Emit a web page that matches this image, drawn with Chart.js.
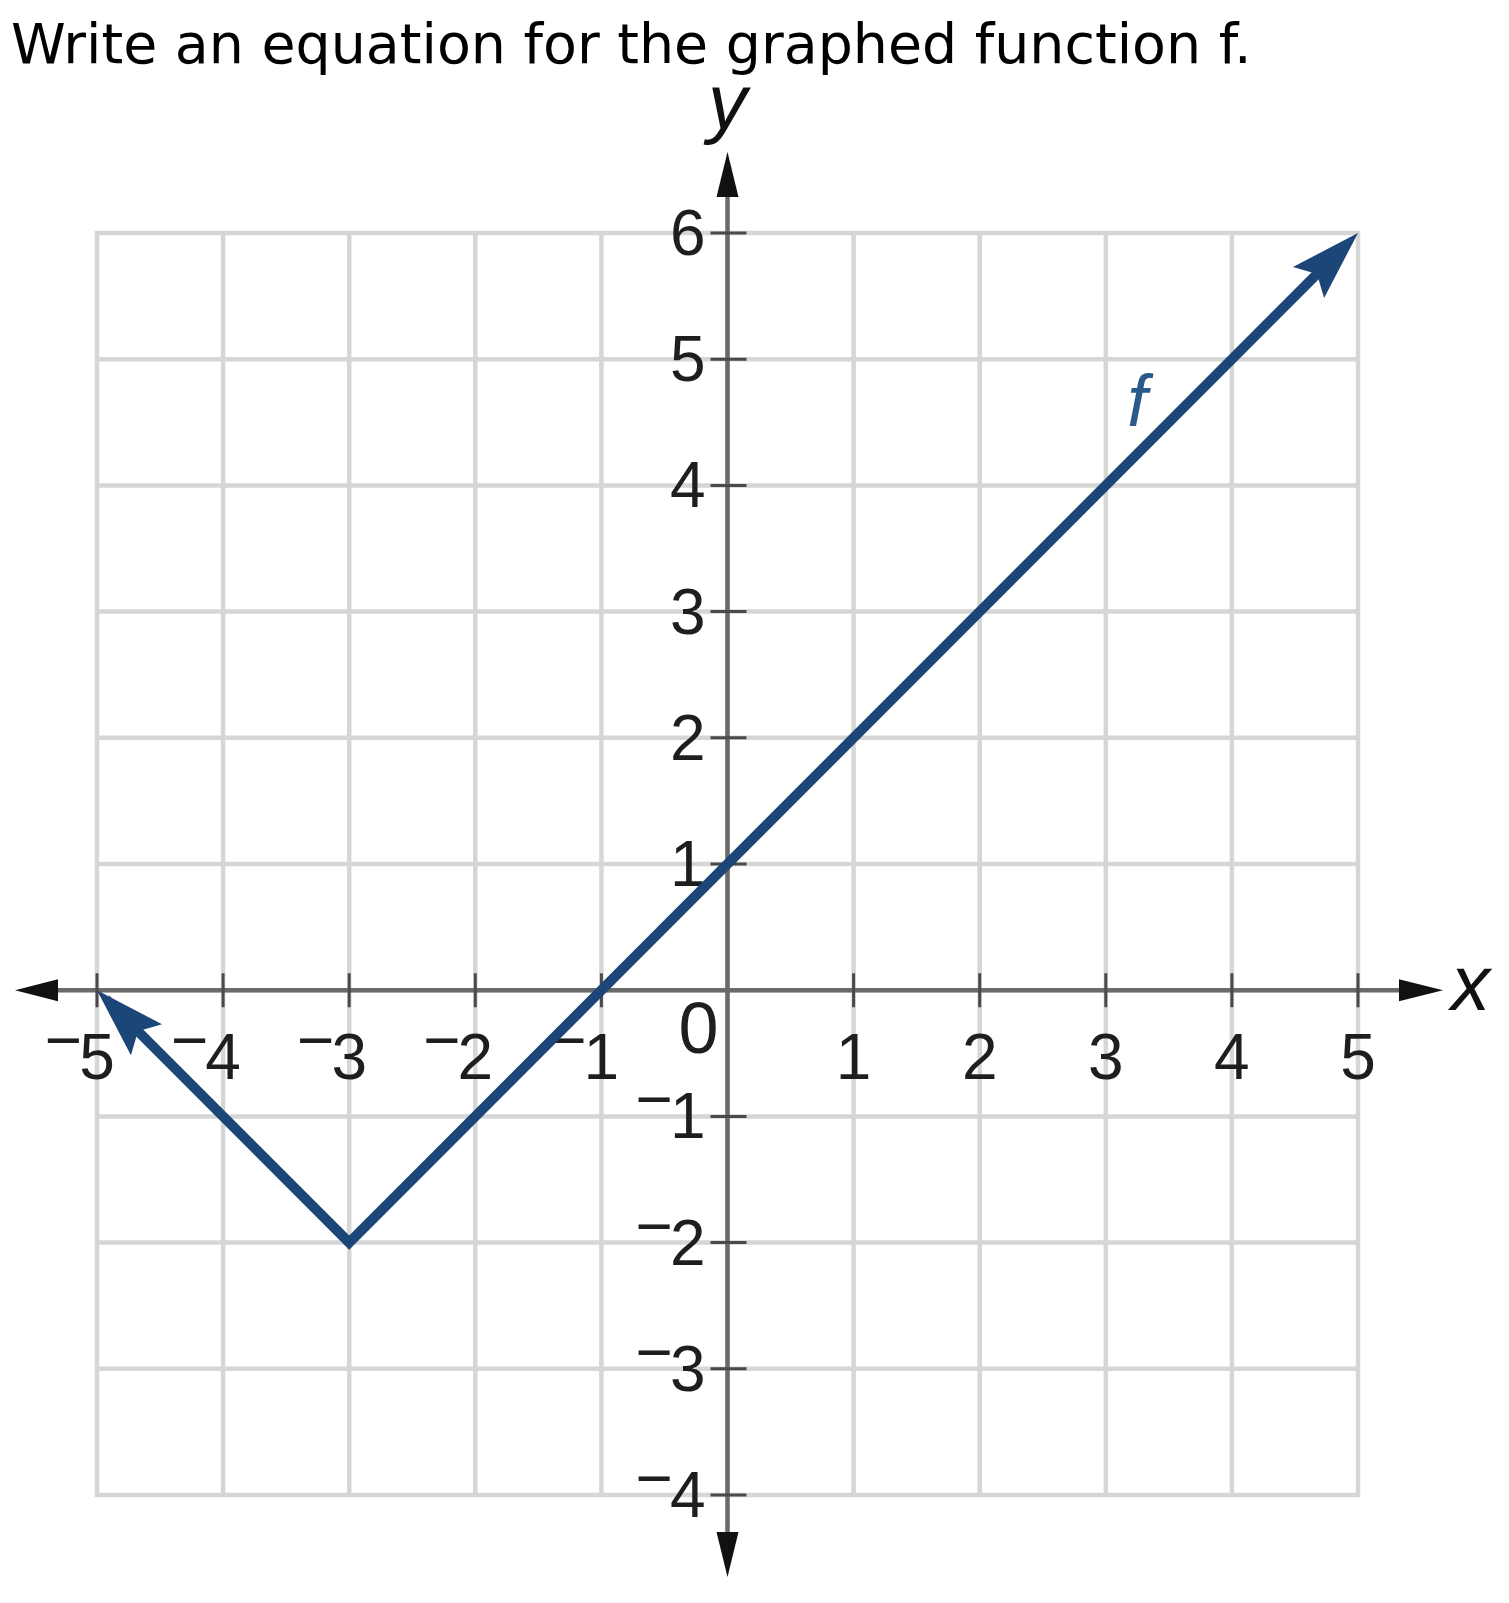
<!DOCTYPE html>
<html>
<head>
<meta charset="utf-8">
<script src="https://cdn.jsdelivr.net/npm/chart.js@4.4.1/dist/chart.umd.min.js"></script>
<style>
html,body{margin:0;padding:0;background:#fff;}
#wrap{position:relative;width:1509px;height:1603px;overflow:hidden;}
#title{position:absolute;left:11px;top:16px;font-family:"DejaVu Sans";font-size:55.4px;line-height:56px;white-space:nowrap;color:#000;}
canvas{position:absolute;left:0;top:0;}
</style>
</head>
<body>
<div id="wrap">
<canvas id="c" width="1509" height="1603"></canvas>
<div id="title">Write an equation for the graphed function f.</div>
</div>
<script>
// ---- data ----
const xRange = [-5, 5];
const yRange = [-4, 6];
const xTickValues = [-5, -4, -3, -2, -1, 1, 2, 3, 4, 5];
const xTickLabels = ['−5', '−4', '−3', '−2', '−1', '1', '2', '3', '4', '5'];
const yTickValues = [6, 5, 4, 3, 2, 1, -1, -2, -3, -4];
const yTickLabels = ['6', '5', '4', '3', '2', '1', '−1', '−2', '−3', '−4'];
const originLabel = '0';
const axisNames = ['x', 'y'];
const seriesName = 'f';
const fX = [-5, -3, 5];
const fY = [0, -2, 6];
const fLabelAt = [3.25, 4.47];

// ---- styles ----
const LINE_COLOR = '#1b4677';
const GRID_COLOR = '#d6d6d6';
const AXIS_COLOR = '#6a6a6a';
const TICK_COLOR = '#4a4a4a';
const TEXT_COLOR = '#1e1e1e';
const NUM_FONT = '64px "Liberation Sans", Arial, sans-serif';

function drawNum(ctx, text, x, baseline, align) {
  ctx.save();
  ctx.font = NUM_FONT;
  ctx.fillStyle = TEXT_COLOR;
  ctx.textBaseline = 'alphabetic';
  let neg = text.startsWith('−');
  let digits = neg ? text.slice(1) : text;
  let w = ctx.measureText(digits).width;
  let left = align === 'center' ? x - w / 2 : x - w;
  ctx.textAlign = 'left';
  ctx.fillText(digits, left, baseline);
  if (neg) {
    ctx.textAlign = 'right';
    ctx.fillText('−', left + 3, baseline - 17);
  }
  ctx.restore();
}

function tri(ctx, tip, dir, len, half, notch) {
  const nx = -dir[1], ny = dir[0];
  const bx = tip[0] - dir[0] * len, by = tip[1] - dir[1] * len;
  ctx.beginPath();
  ctx.moveTo(tip[0], tip[1]);
  ctx.lineTo(bx + nx * half, by + ny * half);
  ctx.lineTo(tip[0] - dir[0] * (len - notch), tip[1] - dir[1] * (len - notch));
  ctx.lineTo(bx - nx * half, by - ny * half);
  ctx.closePath();
  ctx.fill();
}

const backdrop = {
  id: 'backdrop',
  beforeDatasetsDraw(chart) {
    const ctx = chart.ctx;
    const xs = chart.scales.x, ys = chart.scales.y;
    const X = v => xs.getPixelForValue(v), Y = v => ys.getPixelForValue(v);
    // grid
    ctx.save();
    ctx.strokeStyle = GRID_COLOR;
    ctx.lineWidth = 4.5;
    ctx.beginPath();
    for (let v = xRange[0]; v <= xRange[1]; v++) {
      ctx.moveTo(X(v), Y(yRange[1]) - 2); ctx.lineTo(X(v), Y(yRange[0]) + 2);
    }
    for (let v = yRange[0]; v <= yRange[1]; v++) {
      ctx.moveTo(X(xRange[0]) - 2, Y(v)); ctx.lineTo(X(xRange[1]) + 2, Y(v));
    }
    ctx.stroke();
    // axes
    const x0 = X(0), y0 = Y(0);
    const xl = X(xRange[0]) - 82, xr = X(xRange[1]) + 85;
    const yt = Y(yRange[1]) - 81, yb = Y(yRange[0]) + 82;
    ctx.strokeStyle = AXIS_COLOR;
    ctx.lineWidth = 4.5;
    ctx.beginPath();
    ctx.moveTo(xl + 10, y0); ctx.lineTo(xr - 10, y0);
    ctx.moveTo(x0, yt + 10); ctx.lineTo(x0, yb - 10);
    ctx.stroke();
    ctx.fillStyle = '#111';
    tri(ctx, [xl, y0], [-1, 0], 43, 11, 0);
    tri(ctx, [xr, y0], [1, 0], 44, 11, 0);
    tri(ctx, [x0, yt], [0, -1], 45, 11, 0);
    tri(ctx, [x0, yb], [0, 1], 45, 11, 0);
    // tick marks
    ctx.strokeStyle = TICK_COLOR;
    ctx.lineWidth = 3;
    ctx.beginPath();
    xTickValues.forEach(v => { ctx.moveTo(X(v), y0 - 17); ctx.lineTo(X(v), y0 + 17); });
    yTickValues.forEach(v => { ctx.moveTo(x0 - 17, Y(v)); ctx.lineTo(x0 + 19, Y(v)); });
    ctx.stroke();
    // tick labels
    xTickValues.forEach((v, i) => drawNum(ctx, xTickLabels[i], X(v), y0 + 89, 'center'));
    yTickValues.forEach((v, i) => drawNum(ctx, yTickLabels[i], x0 - 22, Y(v) + 22, 'right'));
    ctx.font = '72px "Liberation Sans", Arial, sans-serif';
    ctx.fillStyle = TEXT_COLOR;
    ctx.textAlign = 'center';
    ctx.textBaseline = 'alphabetic';
    ctx.fillText(originLabel, x0 - 29, y0 + 63);
    // axis names
    ctx.font = 'italic 78px "Liberation Sans", Arial, sans-serif';
    ctx.fillStyle = '#111';
    ctx.textAlign = 'left';
    ctx.fillText(axisNames[0], xr + 8, y0 + 20);
    ctx.textAlign = 'center';
    ctx.fillText(axisNames[1], x0, yt - 23);
    ctx.restore();
  },
  afterDatasetsDraw(chart) {
    const ctx = chart.ctx;
    const meta = chart.getDatasetMeta(0);
    const pts = meta.data;
    ctx.save();
    ctx.fillStyle = LINE_COLOR;
    const head = (a, b) => {
      let dx = a.x - b.x, dy = a.y - b.y, L = Math.hypot(dx, dy);
      tri(ctx, [a.x, a.y], [dx / L, dy / L], 70, 22, 12);
    };
    head(pts[0], pts[1]);
    head(pts[pts.length - 1], pts[pts.length - 2]);
    const xs = chart.scales.x, ys = chart.scales.y;
    ctx.font = 'italic 72px "Liberation Sans", Arial, sans-serif';
    ctx.fillStyle = '#2a5a8c';
    ctx.textAlign = 'center';
    ctx.textBaseline = 'alphabetic';
    ctx.fillText(seriesName, xs.getPixelForValue(fLabelAt[0]), ys.getPixelForValue(fLabelAt[1]));
    ctx.restore();
  }
};

new Chart(document.getElementById('c'), {
  type: 'scatter',
  data: {
    datasets: [{
      label: seriesName,
      data: fX.map((x, i) => ({ x: x, y: fY[i] })),
      showLine: true,
      borderColor: LINE_COLOR,
      backgroundColor: LINE_COLOR,
      borderWidth: 10,
      borderJoinStyle: 'miter',
      borderCapStyle: 'butt',
      pointRadius: 0,
      pointHoverRadius: 0,
      tension: 0,
      clip: { left: -12, right: -12, top: -12, bottom: false }
    }]
  },
  options: {
    responsive: false,
    animation: false,
    devicePixelRatio: 1,
    layout: { padding: { left: 97, right: 151, top: 233, bottom: 108 } },
    plugins: { legend: { display: false }, tooltip: { enabled: false }, title: { display: false } },
    events: [],
    scales: {
      x: { type: 'linear', min: xRange[0], max: xRange[1], display: false },
      y: { type: 'linear', min: yRange[0], max: yRange[1], display: false }
    }
  },
  plugins: [backdrop]
});
</script>
</body>
</html>
